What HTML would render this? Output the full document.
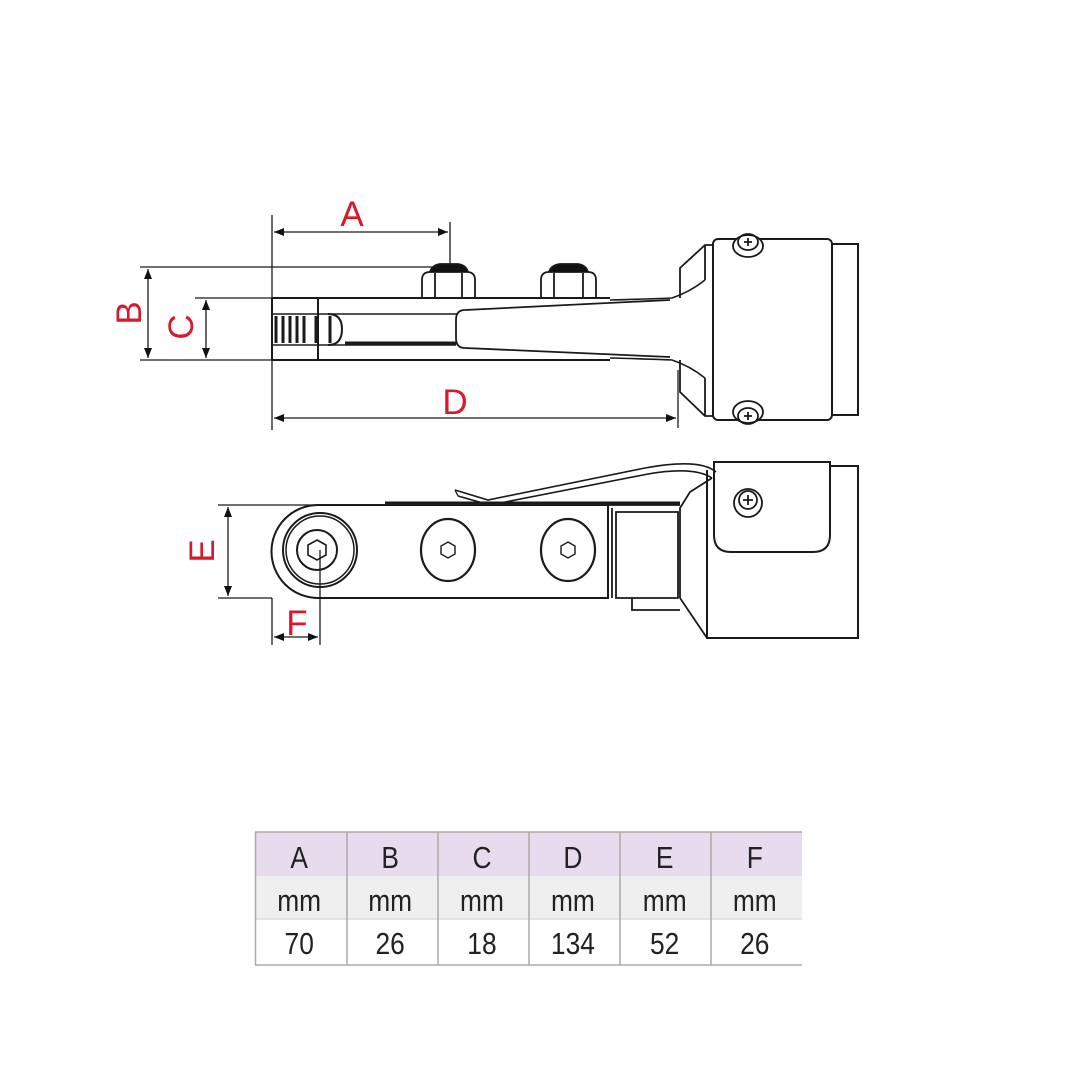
<!DOCTYPE html>
<html><head><meta charset="utf-8"><style>
html,body{margin:0;padding:0;background:#fff;}
svg{display:block}
</style></head><body>
<svg width="1080" height="1080" viewBox="0 0 1080 1080" xmlns="http://www.w3.org/2000/svg">
<defs>
<marker id="ar" viewBox="0 0 10 10" refX="10" refY="5" markerWidth="14" markerHeight="10" markerUnits="userSpaceOnUse" orient="auto-start-reverse"><path d="M0,1 L10,5 L0,9 Z" fill="#111"/></marker>
</defs>
<g fill="none" stroke="#1a1a1a" stroke-width="1.3">
<!-- ===== TOP VIEW ===== -->
<line x1="272" y1="215" x2="272" y2="430"/>
<line x1="450" y1="222" x2="450" y2="268"/>
<line x1="140" y1="267" x2="440" y2="267"/>
<line x1="140" y1="360" x2="272" y2="360"/>
<line x1="195" y1="298" x2="272" y2="298"/>
<line x1="678" y1="370" x2="678" y2="428"/>
<line x1="274" y1="232" x2="448" y2="232" marker-start="url(#ar)" marker-end="url(#ar)"/>
<line x1="148" y1="269" x2="148" y2="358" marker-start="url(#ar)" marker-end="url(#ar)"/>
<line x1="206" y1="300" x2="206" y2="358" marker-start="url(#ar)" marker-end="url(#ar)"/>
<line x1="274" y1="418" x2="676" y2="418" marker-start="url(#ar)" marker-end="url(#ar)"/>
<path d="M272,298 H610 M272,360 H610 M272,298 V360 M318,298 V360" stroke-width="2"/>
<path d="M272,314 H457 M272,345 H456" stroke-width="1.6"/>
<path d="M345,343 H457" stroke-width="3"/>
<g stroke-width="3"><line x1="276" y1="316" x2="276" y2="343"/><line x1="283" y1="316" x2="283" y2="343"/><line x1="290" y1="316" x2="290" y2="343"/><line x1="297" y1="316" x2="297" y2="343"/><line x1="304" y1="316" x2="304" y2="343"/><line x1="316" y1="316" x2="316" y2="343"/><line x1="330" y1="316" x2="330" y2="343"/></g>
<path d="M328,314 Q342,314 342,329 Q342,345 328,345" stroke-width="2"/>
<path d="M610,300 Q650,299 672,298 Q690,292 705,280 M610,358 Q650,359 672,360 Q690,366 705,378" stroke-width="1.6"/>
<path d="M465,310 L670,300 M465,348 L670,357 M465,310 Q456,310 456,320 V338 Q456,348 465,348" stroke-width="1.8"/>
<g stroke-width="1.8">
<path d="M422,298 V280 Q422,272 430,272 H467 Q475,272 475,280 V298 M435,273 V298 M462,273 V298"/>
<path d="M430,272 Q432,265 440,264 H458 Q466,265 468,272" fill="#111"/>
<path d="M541,298 V280 Q541,272 549,272 H588 Q596,272 596,280 V298 M554,273 V298 M583,273 V298"/>
<path d="M549,272 Q551,265 560,264 H578 Q586,265 588,272" fill="#111"/>
</g>
<path d="M680,298 V268 L705,245 H713 M680,360 V392 L705,416 H713 M705,245 V280 M705,378 V416" stroke-width="1.8"/>
<rect x="713" y="239" width="119" height="181" rx="5" stroke-width="2"/>
<path d="M832,244 H858 V415 H832" stroke-width="2"/>
<g stroke-width="1.8">
<ellipse cx="748" cy="246" rx="15" ry="11" fill="#fff"/><ellipse cx="748" cy="242" rx="10" ry="8"/><path d="M744,242 H752 M748,238 V246"/>
<ellipse cx="748" cy="412" rx="15" ry="11" fill="#fff"/><ellipse cx="748" cy="416" rx="10" ry="8"/><path d="M744,416 H752 M748,412 V420"/>
</g>

<!-- ===== SIDE VIEW ===== -->
<line x1="218" y1="505" x2="320" y2="505"/>
<line x1="218" y1="598" x2="272" y2="598"/>
<line x1="272" y1="598" x2="272" y2="645"/>
<line x1="320" y1="550" x2="320" y2="645"/>
<line x1="228" y1="507" x2="228" y2="596" marker-start="url(#ar)" marker-end="url(#ar)"/>
<line x1="274" y1="637" x2="318" y2="637" marker-start="url(#ar)" marker-end="url(#ar)"/>
<path d="M608,505 H318 A46,46 0 0 0 318,598 H608 Z" stroke-width="2"/>
<path d="M385,503 H680" stroke-width="3"/>
<circle cx="320" cy="550" r="37" stroke-width="2"/>
<circle cx="320" cy="550" r="34" stroke-width="1.5"/>
<circle cx="317" cy="550" r="20" stroke-width="2"/>
<polygon points="317,540 326,545 326,555 317,560 308,555 308,545" stroke-width="1.6"/>
<ellipse cx="448" cy="550" rx="27" ry="31" stroke-width="2.2"/>
<polygon points="448,542 455,546 455,554 448,558 441,554 441,546" stroke-width="1.4"/>
<ellipse cx="568" cy="550" rx="27" ry="31" stroke-width="2.2"/>
<polygon points="568,542 575,546 575,554 568,558 561,554 561,546" stroke-width="1.4"/>
<path d="M608,505 H680 M612,508 V598 M616,512 H678 V598 H616 Z M632,598 V610 H680" stroke-width="1.8"/>
<path d="M680,598 V508 L690,492 L712,478 M680,598 L707,638" stroke-width="1.8"/>
<path d="M707,470 V638 H858 V466 H830" stroke-width="2"/>
<path d="M714,462 H830 V535 Q830,552 813,552 H731 Q714,552 714,535 Z" stroke-width="2" fill="#fff"/>
<g stroke-width="1.8"><circle cx="748" cy="503" r="14"/><circle cx="748" cy="500" r="9"/><path d="M743,500 H753 M748,495 V505"/></g>
<path d="M455,490 L488,500 L645,468 Q700,458 716,472" stroke-width="1.6"/>
<path d="M458,496 L490,505 L648,474 Q694,466 712,478" stroke-width="1.6"/>
<line x1="455" y1="490" x2="458" y2="496"/>
</g>
<g fill="#d7192b" font-family="Liberation Sans, sans-serif" font-size="35" text-anchor="middle">
<text x="352" y="226">A</text>
<text x="455" y="414">D</text>
<text x="297" y="635">F</text>
<text transform="translate(141,313) rotate(-90)">B</text>
<text transform="translate(193,327) rotate(-90)">C</text>
<text transform="translate(214,551) rotate(-90)">E</text>
</g>

<!-- ===== TABLE ===== -->
<rect x="255" y="832" width="547" height="44" fill="#e6dced"/>
<rect x="255" y="876" width="547" height="43" fill="#efefef"/>
<g stroke="#aaa" stroke-width="1.5">
<line x1="255" y1="832" x2="802" y2="832"/>
<line x1="255" y1="965" x2="802" y2="965"/>
<line x1="255" y1="919" x2="802" y2="919" stroke="#ddd"/>
<line x1="255.5" y1="832" x2="255.5" y2="965"/>
<line x1="347" y1="832" x2="347" y2="965"/>
<line x1="438" y1="832" x2="438" y2="965"/>
<line x1="529" y1="832" x2="529" y2="965"/>
<line x1="620" y1="832" x2="620" y2="965"/>
<line x1="711" y1="832" x2="711" y2="965"/>
</g>
<g fill="#222" font-family="Liberation Sans, sans-serif" font-size="31" text-anchor="middle">
<g transform="translate(0,868) scale(0.85,1)"><text x="352">A</text><text x="459">B</text><text x="567">C</text><text x="674">D</text><text x="782">E</text><text x="888">F</text></g>
<g transform="translate(0,911) scale(0.85,1)"><text x="352">mm</text><text x="459">mm</text><text x="567">mm</text><text x="674">mm</text><text x="782">mm</text><text x="888">mm</text></g>
<g transform="translate(0,954) scale(0.85,1)"><text x="352">70</text><text x="459">26</text><text x="567">18</text><text x="674">134</text><text x="782">52</text><text x="888">26</text></g>
</g>
</svg>
</body></html>
